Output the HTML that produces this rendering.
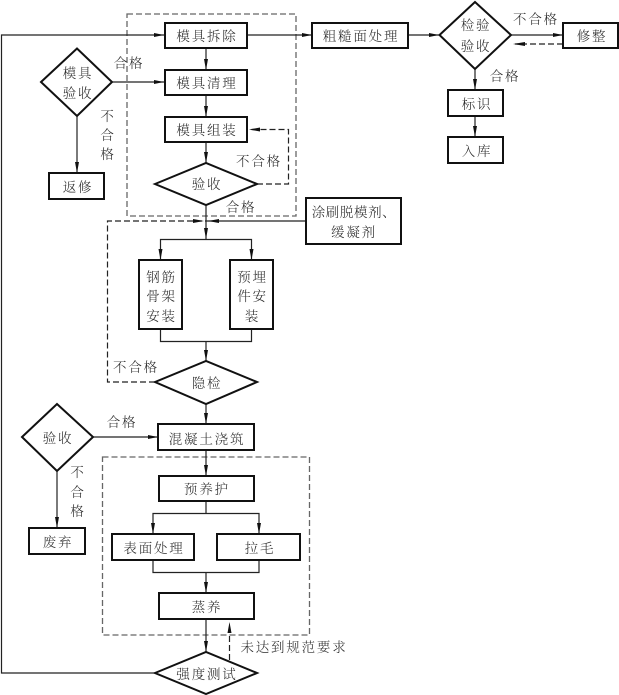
<!DOCTYPE html>
<html><head><meta charset="utf-8">
<style>
html,body{margin:0;padding:0;background:#fff;width:619px;height:695px;overflow:hidden}
svg{display:block}
text{font-family:"Liberation Serif","Noto Serif CJK SC",serif;font-size:13.500px;fill:#2a2a2a;text-anchor:middle;letter-spacing:1.800px;font-weight:300}
.b{fill:#fff;stroke:#111;stroke-width:2}
.l{fill:none;stroke:#222;stroke-width:1.2}
.d{fill:none;stroke:#222;stroke-width:1.2;stroke-dasharray:6 3}
.g{fill:none;stroke:#666;stroke-width:1.3;stroke-dasharray:6 3}
.h{fill:#111;stroke:none}
</style></head><body>
<svg width="619" height="695" viewBox="0 0 619 695" xmlns="http://www.w3.org/2000/svg">
<defs>
<polygon id="r" class="h" points="0,0 -10,-2 -10,2"/>
<polygon id="dn" class="h" points="0,0 -2,-11 2,-11"/>
</defs>
<!-- dashed groups -->
<rect class="g" x="127" y="14" width="169" height="202"/>
<rect class="g" x="102.5" y="457" width="207" height="178"/>
<!-- connectors -->
<path class="l" d="M155,673 H1.5 V35 H164"/>
<path class="l" d="M247,35 H312"/>
<path class="l" d="M408,35 H440"/>
<path class="l" d="M511,35 H563"/>
<path class="d" d="M563,44 H515"/>
<path class="l" d="M475,69 V90"/>
<path class="l" d="M475,116 V137"/>
<path class="l" d="M206,48 V70"/>
<path class="l" d="M112,82 H164"/>
<path class="l" d="M206,95 V117"/>
<path class="l" d="M206,142 V163"/>
<path class="l" d="M77,116 V173"/>
<path class="d" d="M257,184 H288.500 V129.500 H250"/>
<path class="l" d="M206,205 V239"/>
<path class="l" d="M306,221 H206"/>
<path class="d" d="M155,382 H107.500 V221 H206"/>
<path class="l" d="M160.500,260 V239.500 H251.500 V260"/>
<path class="l" d="M160.500,329 V341.500 H251.500 V329"/>
<path class="l" d="M206,341 V361"/>
<path class="l" d="M206,404 V424"/>
<path class="l" d="M93,437 H158"/>
<path class="l" d="M57,471 V528"/>
<path class="l" d="M206,450 V476"/>
<path class="l" d="M206,501 V513"/>
<path class="l" d="M153,534 V513.500 H259 V534"/>
<path class="l" d="M153,560 V572.500 H259 V560"/>
<path class="l" d="M206,572 V593"/>
<path class="l" d="M206,619 V652"/>
<path class="d" d="M229.500,660 V625"/>
<!-- arrowheads -->
<use href="#r" x="164" y="35"/>
<use href="#r" x="312" y="35"/>
<use href="#r" x="439" y="35"/>
<use href="#r" x="563" y="35"/>
<polygon class="h" points="513,44 525,42 525,46"/>
<use href="#r" x="164" y="82"/>
<use href="#dn" x="206" y="70"/>
<use href="#dn" x="206" y="117"/>
<use href="#dn" x="206" y="163"/>
<use href="#dn" x="77" y="173"/>
<polygon class="h" points="249,129.500 260,127.500 260,131.500"/>
<use href="#dn" x="475" y="90"/>
<use href="#dn" x="475" y="137"/>
<polygon class="h" points="204,221 193,219 193,223"/>
<polygon class="h" points="208,221 219,219 219,223"/>
<use href="#dn" x="206" y="239"/>
<use href="#dn" x="160.500" y="260"/>
<use href="#dn" x="251.500" y="260"/>
<use href="#dn" x="206" y="361"/>
<use href="#dn" x="206" y="424"/>
<use href="#r" x="158" y="437"/>
<use href="#dn" x="57" y="528"/>
<use href="#dn" x="206" y="476"/>
<use href="#dn" x="153" y="534"/>
<use href="#dn" x="259" y="534"/>
<use href="#dn" x="206" y="593"/>
<use href="#dn" x="206" y="652"/>
<polygon class="h" points="229.500,622 227.500,633 231.500,633"/>
<!-- boxes -->
<rect class="b" x="165" y="23" width="82" height="25"/>
<rect class="b" x="165" y="70" width="82" height="25"/>
<rect class="b" x="165" y="117" width="82" height="25"/>
<rect class="b" x="49" y="173" width="55" height="26"/>
<rect class="b" x="312" y="23" width="96" height="25"/>
<rect class="b" x="563" y="23" width="55" height="25"/>
<rect class="b" x="448" y="90" width="55" height="26"/>
<rect class="b" x="448" y="137" width="55" height="26"/>
<rect class="b" x="306" y="198" width="95" height="46"/>
<rect class="b" x="139" y="260" width="43" height="69"/>
<rect class="b" x="230" y="260" width="43" height="69"/>
<rect class="b" x="158" y="424" width="96" height="26"/>
<rect class="b" x="29" y="528" width="56" height="26"/>
<rect class="b" x="159" y="476" width="95" height="25"/>
<rect class="b" x="112" y="534" width="82" height="26"/>
<rect class="b" x="217" y="534" width="83" height="26"/>
<rect class="b" x="159" y="593" width="95" height="26"/>
<!-- diamonds -->
<polygon class="b" points="41,82 77,48.500 112,82 77,116"/>
<polygon class="b" points="155,184 206,163 257,184 206,205"/>
<polygon class="b" points="439.500,35 475,2 511,35 475,69"/>
<polygon class="b" points="155,382 206,361 257,382 206,404"/>
<polygon class="b" points="22,437 57,404 93,437 57,471"/>
<polygon class="b" points="155,673 206,652 257,673 206,694"/>
<!-- labels -->
<g transform="translate(1,0)">
<text x="206" y="41">模具拆除</text>
<text x="206" y="88">模具清理</text>
<text x="206" y="135">模具组装</text>
<text x="206" y="189">验收</text>
<text x="77" y="78">模具</text>
<text x="77" y="98">验收</text>
<text x="77" y="192">返修</text>
<text x="128" y="68">合格</text>
<text x="107" y="121">不</text>
<text x="107" y="140">合</text>
<text x="107" y="159">格</text>
<text x="258" y="166">不合格</text>
<text x="240" y="212">合格</text>
<text x="360" y="41">粗糙面处理</text>
<text x="475" y="30">检验</text>
<text x="475" y="51">验收</text>
<text x="535" y="24">不合格</text>
<text x="591" y="41">修整</text>
<text x="504" y="81">合格</text>
<text x="476" y="109">标识</text>
<text x="476" y="156">入库</text>
<text x="353" y="217" style="letter-spacing:0.600px">涂刷脱模剂、</text>
<text x="353" y="237">缓凝剂</text>
<text x="160.500" y="282">钢筋</text>
<text x="160.500" y="301">骨架</text>
<text x="160.500" y="321">安装</text>
<text x="251.500" y="282">预埋</text>
<text x="251.500" y="301">件安</text>
<text x="251.500" y="321">装</text>
<text x="135" y="372">不合格</text>
<text x="206" y="388">隐检</text>
<text x="121" y="427">合格</text>
<text x="57" y="443">验收</text>
<text x="206" y="444">混凝土浇筑</text>
<text x="77" y="477">不</text>
<text x="77" y="497">合</text>
<text x="77" y="516">格</text>
<text x="57" y="547">废弃</text>
<text x="206" y="494">预养护</text>
<text x="153" y="553">表面处理</text>
<text x="259" y="553">拉毛</text>
<text x="206" y="612">蒸养</text>
<text x="293" y="652">未达到规范要求</text>
<text x="206" y="679">强度测试</text>
</g>
</svg>
</body></html>
